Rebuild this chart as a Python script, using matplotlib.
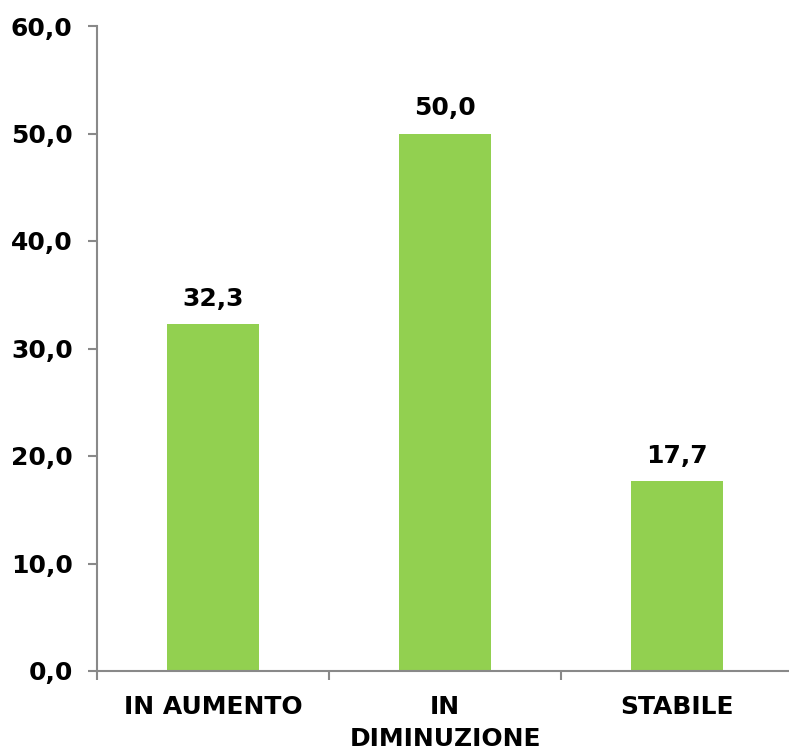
import matplotlib
matplotlib.use("Agg")
import matplotlib.pyplot as plt

categories = ["IN AUMENTO", "IN\nDIMINUZIONE", "STABILE"]
values = [32.3, 50.0, 17.7]
yticks = [0, 10, 20, 30, 40, 50, 60]

fig = plt.figure(figsize=(7.89, 7.51), dpi=100)
ax = fig.add_axes([97/789, 1-671/751, (793-97)/789, (671-26)/751])
x = list(range(len(categories)))
ax.bar(x, values, width=0.4, color="#92d050", zorder=2)
ax.set_xlim(-0.5, 2.5)
ax.set_ylim(0, 60)
ax.set_yticks(yticks)
ax.set_yticklabels([f"{v:.1f}".replace(".", ",") for v in yticks],
                   fontsize=18, fontweight="bold")
ax.set_xticks(x)
ax.set_xticklabels(categories, fontsize=18, fontweight="bold", va="top",
                   linespacing=1.45)
ax.tick_params(axis="x", length=0, pad=17)
ax.set_xticks([-0.5, 0.5, 1.5, 2.5], minor=True)
ax.tick_params(axis="x", which="minor", length=6.5, color="#898989", width=1.5)
ax.tick_params(axis="y", length=6.5, color="#898989", width=1.5, pad=11)
for s in ["top", "right"]:
    ax.spines[s].set_visible(False)
for s in ["left", "bottom"]:
    ax.spines[s].set_color("#898989")
    ax.spines[s].set_linewidth(1.5)
for xi, v in zip(x, values):
    ax.annotate(f"{v:.1f}".replace(".", ","), (xi, v), xytext=(0, 9.5),
                textcoords="offset points", ha="center", va="bottom",
                fontsize=18, fontweight="bold")
fig.savefig("out.png", dpi=100)
